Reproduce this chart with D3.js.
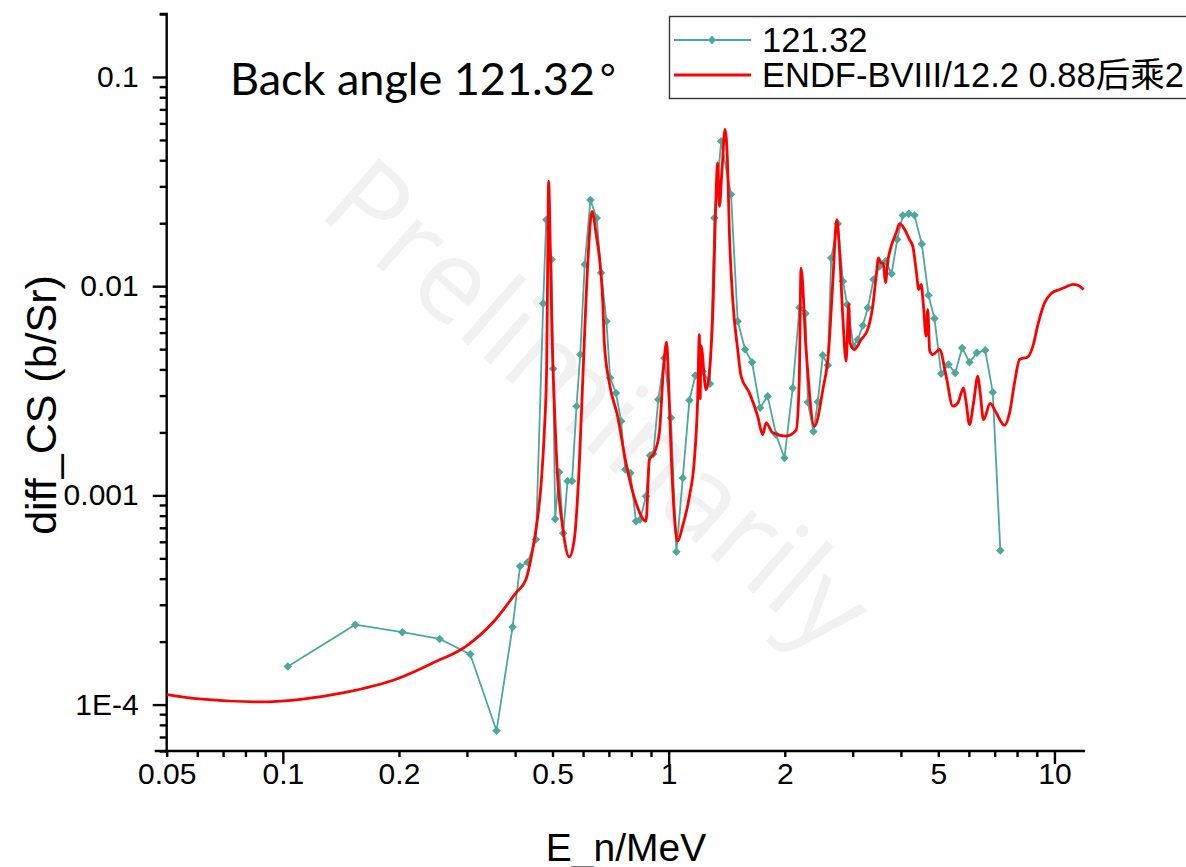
<!DOCTYPE html>
<html>
<head>
<meta charset="utf-8">
<script src="https://cdn.jsdelivr.net/npm/d3@7"></script>
<style>
  body { margin: 0; background: #fff; }
  svg { display: block; }
</style>
</head>
<body>
<script>
// measured series: E_n (MeV) and diff_CS (b/Sr)
var measE = [0.103, 0.154, 0.204, 0.255, 0.306, 0.358, 0.394, 0.412, 0.431, 0.453, 0.473, 0.4816, 0.497, 0.502,
  0.508, 0.5205, 0.533, 0.547, 0.562, 0.577, 0.590, 0.606, 0.627, 0.651, 0.668, 0.690, 0.705, 0.730, 0.753,
  0.772, 0.796, 0.823, 0.843, 0.874, 0.895, 0.913, 0.940, 0.975, 1.014, 1.047, 1.088, 1.132, 1.173, 1.225,
  1.280, 1.314, 1.368, 1.451, 1.510, 1.578, 1.645, 1.726, 1.806, 1.899, 1.996, 2.097, 2.183, 2.263, 2.295,
  2.373, 2.435, 2.510, 2.586, 2.639, 2.745, 2.829, 2.903, 3.014, 3.093, 3.187, 3.283, 3.396, 3.522, 3.649,
  3.783, 3.912, 4.046, 4.193, 4.337, 4.530, 4.716, 4.887, 5.087, 5.313, 5.530, 5.765, 6.023, 6.292, 6.615,
  6.92, 7.24];
var measCS = [1.52e-4, 2.41e-4, 2.22e-4, 2.06e-4, 1.74e-4, 7.5e-5, 2.35e-4, 4.58e-4, 4.79e-4, 6.15e-4, 8.26e-3,
  2.08e-2, 1.34e-2, 4.03e-3, 7.72e-4, 1.29e-3, 6.6e-4, 1.17e-3, 1.17e-3, 2.67e-3, 4.71e-3, 1.27e-2, 2.58e-2,
  2.12e-2, 1.16e-2, 6.8e-3, 3.65e-3, 3.09e-3, 2.26e-3, 1.33e-3, 1.28e-3, 7.52e-4, 7.66e-4, 9.9e-4, 1.55e-3,
  1.58e-3, 2.87e-3, 4.54e-3, 2.35e-3, 5.37e-4, 1.21e-3, 2.85e-3, 3.74e-3, 3.92e-3, 3.42e-3, 2.12e-2, 4.93e-2,
  2.74e-2, 6.8e-3, 4.98e-3, 4.33e-3, 2.62e-3, 2.98e-3, 1.95e-3, 1.51e-3, 3.26e-3, 7.88e-3, 7.4e-3, 2.79e-3,
  2.02e-3, 2.80e-3, 4.67e-3, 4.19e-3, 1.365e-2, 1.99e-2, 1.056e-2, 8.17e-3, 5.16e-3, 5.56e-3, 6.49e-3, 7.88e-3,
  1.076e-2, 1.246e-2, 1.315e-2, 1.148e-2, 1.67e-2, 2.18e-2, 2.22e-2, 2.18e-2, 1.59e-2, 9.05e-3, 7.0e-3,
  3.81e-3, 4.22e-3, 3.85e-3, 5.07e-3, 4.33e-3, 4.80e-3, 4.94e-3, 3.11e-3, 5.45e-4];

// ENDF-B/VIII evaluation
var endfE = [0.05, 0.0607, 0.0868, 0.110, 0.143, 0.2004, 0.2446, 0.2983, 0.3497, 0.4019, 0.4266, 0.444, 0.453,
  0.4667, 0.476, 0.4829, 0.4857, 0.4886, 0.4926, 0.4964, 0.4984, 0.505, 0.5153, 0.5309, 0.5526, 0.5694, 0.5865,
  0.6009, 0.6166, 0.6328, 0.648, 0.6745, 0.6812, 0.7018, 0.7375, 0.775, 0.8231, 0.8738, 0.891, 0.918, 0.946,
  0.9705, 0.988, 1.0, 1.014, 1.035, 1.055, 1.087, 1.132, 1.166, 1.189, 1.201, 1.207, 1.213, 1.250, 1.288,
  1.305, 1.321, 1.340, 1.354, 1.375, 1.400, 1.422, 1.437, 1.466, 1.510, 1.541, 1.619, 1.701, 1.753, 1.789,
  1.861, 2.016, 2.14, 2.18, 2.204, 2.271, 2.387, 2.51, 2.6, 2.663, 2.728, 2.771, 2.827, 2.884, 2.930, 2.954,
  3.030, 3.155, 3.28, 3.38, 3.45, 3.499, 3.555, 3.60, 3.648, 3.699, 3.774, 3.889, 3.967, 4.087, 4.21, 4.294,
  4.38, 4.449, 4.513, 4.57, 4.649, 4.694, 4.75, 4.838, 5.035, 5.24, 5.452, 5.618, 5.812, 5.905, 6.023, 6.17,
  6.33, 6.42, 6.548, 6.815, 7.064, 7.42, 7.65, 7.88, 8.12, 8.53, 8.79, 9.06, 9.425, 9.81, 10.31, 10.73,
  11.16, 11.5, 11.9];
var endfCS = [1.117e-4, 1.064e-4, 1.03e-4, 1.057e-4, 1.137e-4, 1.34e-4, 1.58e-4, 1.9e-4, 2.46e-4, 3.42e-4,
  3.96e-4, 5.5e-4, 6.87e-4, 1.11e-3, 1.99e-3, 4.14e-3, 1.245e-2, 3.17e-2, 1.8e-2, 8.63e-3, 5.98e-3, 2.87e-3,
  1.23e-3, 7.12e-4, 5.08e-4, 6.15e-4, 1.38e-3, 4.14e-3, 1.245e-2, 2.28e-2, 1.8e-2, 8.63e-3, 5.36e-3, 3.45e-3,
  2.39e-3, 1.43e-3, 9.2e-4, 7.52e-4, 1.48e-3, 1.6e-3, 1.99e-3, 4.14e-3, 5.4e-3, 3.45e-3, 1.66e-3, 7.94e-4,
  6.04e-4, 7.12e-4, 9.9e-4, 1.48e-3, 2.87e-3, 5.87e-3, 2.9e-3, 5.2e-3, 3.2e-3, 4.98e-3, 8.6e-3, 2.08e-2,
  3.88e-2, 2.41e-2, 3.6e-2, 5.61e-2, 3.74e-2, 1.8e-2, 8.63e-3, 4.98e-3, 3.71e-3, 3.09e-3, 2.39e-3, 1.95e-3,
  2.22e-3, 1.99e-3, 1.92e-3, 2.05e-3, 3.5e-3, 1.22e-2, 4.98e-3, 2.14e-3, 3.2e-3, 4.98e-3, 1.04e-2, 2.08e-2,
  1.5e-2, 7.18e-3, 4.38e-3, 8.26e-3, 5.36e-3, 4.98e-3, 5.56e-3, 6.2e-3, 8.0e-3, 1.11e-2, 1.366e-2, 1.29e-2,
  1.29e-2, 1.04e-2, 1.315e-2, 1.55e-2, 1.8e-2, 1.99e-2, 1.87e-2, 1.67e-2, 1.55e-2, 1.2e-2, 9.64e-3, 1.02e-2,
  8.3e-3, 5.77e-3, 7.73e-3, 4.9e-3, 4.71e-3, 4.98e-3, 3.71e-3, 2.67e-3, 2.77e-3, 3.26e-3, 2.77e-3, 2.18e-3,
  2.77e-3, 3.71e-3, 3.09e-3, 2.3e-3, 2.75e-3, 2.48e-3, 2.16e-3, 2.48e-3, 3.45e-3, 4.46e-3, 4.59e-3, 5.16e-3,
  6.55e-3, 8.32e-3, 9.22e-3, 9.64e-3, 9.93e-3, 1.02e-2, 1.01e-2, 9.64e-3];

var xLabels = [0.05, 0.1, 0.2, 0.5, 1, 2, 5, 10];
var yLabels = [1e-4, 1e-3, 0.01, 0.1];
var yLabelText = ["1E-4", "0.001", "0.01", "0.1"];

var W = 1186, H = 867;
var mL = 166.7, mR = 1085, mT = 14, mB = 751;
var teal = "#4aa99a", red = "#ff0000";

var svg = d3.select("body").append("svg").attr("width", W).attr("height", H);

var x = d3.scaleLog().domain([0.05, 12]).range([mL, mR]);
var y = d3.scaleLog().domain([6e-5, 0.2]).range([mB, mT]);

// watermark
svg.append("text")
  .attr("transform", "translate(592,412) rotate(41)")
  .attr("text-anchor", "middle")
  .attr("dominant-baseline", "middle")
  .style("font-family", "'Open Sans', sans-serif")
  .style("font-weight", 400)
  .style("font-size", "116px")
  .style("fill", "#000")
  .style("fill-opacity", 0.055)
  .text("Preliminarily");

// tick values at every 1..9 multiple
function logTicks(lo, hi) {
  var out = [];
  for (var e = -6; e <= 2; e++) {
    for (var m = 1; m <= 9; m++) {
      var v = +(m * Math.pow(10, e)).toPrecision(3);
      if (v >= lo * 0.999 && v <= hi * 1.001) out.push(v);
    }
  }
  return out;
}
function isIn(list, v) {
  return list.some(function(a) { return Math.abs(a - v) / a < 1e-6; });
}

var xMajor = [0.1, 1, 10];
var xAxis = d3.axisBottom(x)
  .tickValues(logTicks(0.05, 12))
  .tickSize(6)
  .tickFormat(function(d) { return isIn(xLabels, d) ? String(+d) : ""; });

var gx = svg.append("g")
  .attr("transform", "translate(0," + mB + ")")
  .call(xAxis);
gx.select(".domain").attr("d", "M" + (mL - 12) + ",0H" + mR);
gx.selectAll(".tick line")
  .attr("y2", function(d) { return isIn(xMajor, d) ? 13 : 6; });
gx.selectAll(".tick text").attr("y", 12).attr("dy", "0.71em");

var yAxis = d3.axisLeft(y)
  .tickValues(logTicks(6e-5, 0.2))
  .tickSize(7)
  .tickFormat(function(d) {
    var i = yLabels.findIndex(function(a) { return Math.abs(a - d) / a < 1e-6; });
    return i >= 0 ? yLabelText[i] : "";
  });

var gy = svg.append("g")
  .attr("transform", "translate(" + mL + ",0)")
  .call(yAxis);
gy.select(".domain").attr("d", "M0," + (mB + 1) + "V" + mT + "H-7");
gy.selectAll(".tick line")
  .attr("x2", function(d) { return isIn(yLabels, d) ? -14 : -7; });
gy.selectAll(".tick text").attr("x", -28);

svg.selectAll(".domain, .tick line").attr("stroke", "#000").attr("stroke-width", 2.4);
svg.selectAll(".tick text")
  .style("font-family", "'Liberation Sans', Arial, sans-serif")
  .style("font-size", "30px")
  .attr("fill", "#000");

// axis titles
svg.append("text")
  .attr("x", 626).attr("y", 861)
  .attr("text-anchor", "middle")
  .style("font-family", "'Liberation Sans', Arial, sans-serif")
  .style("font-size", "39px")
  .text("E_n/MeV");

svg.append("text")
  .attr("transform", "translate(56,405) rotate(-90)")
  .attr("text-anchor", "middle")
  .style("font-family", "'Liberation Sans', Arial, sans-serif")
  .style("font-size", "43px")
  .text("diff_CS (b/Sr)");

// annotation
var ann = svg.append("text")
  .attr("x", 230).attr("y", 95)
  .style("font-family", "Lato, 'Open Sans', sans-serif")
  .style("font-size", "45px")
  .text("Back angle 121.32");
ann.append("tspan")
  .attr("dx", 4)
  .style("font-family", "'Liberation Sans', sans-serif")
  .style("font-size", "44px")
  .text("°");

// plot clip
svg.append("clipPath").attr("id", "plot")
  .append("rect").attr("x", mL).attr("y", mT).attr("width", mR - mL).attr("height", mB - mT);

var meas = measE.map(function(e, i) { return [e, measCS[i]]; });
var endf = endfE.map(function(e, i) { return [e, endfCS[i]]; });

var line = d3.line()
  .x(function(d) { return x(d[0]); })
  .y(function(d) { return y(d[1]); });

var gData = svg.append("g").attr("clip-path", "url(#plot)");

gData.append("path")
  .datum(meas)
  .attr("d", line)
  .attr("fill", "none")
  .attr("stroke", teal)
  .attr("stroke-width", 1.8);

var diamond = d3.symbol().type(d3.symbolDiamond2).size(46);
gData.selectAll(".pt")
  .data(meas)
  .enter()
  .append("path")
  .attr("class", "pt")
  .attr("d", diamond)
  .attr("transform", function(d) { return "translate(" + x(d[0]) + "," + y(d[1]) + ")"; })
  .attr("fill", teal);

gData.append("path")
  .datum(endf)
  .attr("d", line.curve(d3.curveMonotoneX))
  .attr("fill", "none")
  .attr("stroke", red)
  .attr("stroke-width", 2.8)
  .attr("stroke-linejoin", "round");

// legend
var lg = svg.append("g");
lg.append("rect")
  .attr("x", 669.5).attr("y", 16.5).attr("width", 540).attr("height", 82)
  .attr("fill", "#fff").attr("stroke", "#333").attr("stroke-width", 1.4);
lg.append("line").attr("x1", 674).attr("x2", 751).attr("y1", 40).attr("y2", 40)
  .attr("stroke", teal).attr("stroke-width", 1.8);
lg.append("path").attr("d", diamond).attr("transform", "translate(712,40)").attr("fill", teal);
lg.append("line").attr("x1", 674).attr("x2", 751).attr("y1", 75).attr("y2", 75)
  .attr("stroke", red).attr("stroke-width", 2.8);
lg.append("text").attr("x", 762).attr("y", 52)
  .style("font-family", "'Liberation Sans', Arial, sans-serif").style("font-size", "34.5px")
  .text("121.32");
lg.append("text").attr("x", 762).attr("y", 87)
  .style("font-family", "'Liberation Sans', Arial, 'Noto Sans CJK SC', sans-serif").style("font-size", "34.5px")
  .text("ENDF-BVIII/12.2 0.88后乘2");
</script>
</body>
</html>
